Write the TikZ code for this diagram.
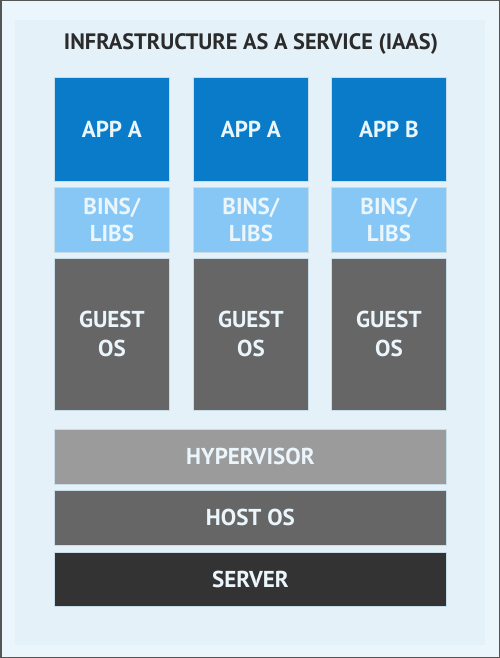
\documentclass[tikz,border=0pt]{standalone}
\usepackage{fontspec}
\setmainfont{PT Sans}
\begin{document}
\begin{tikzpicture}[x=1pt,y=-1pt,
  blk/.style={draw=edgec,line width=0.8pt,inner sep=0pt,text=lighttxt,align=center,
    font=\fontsize{23}{29}\selectfont\bfseries},
  appbox/.style={blk,fill=appc},
  binbox/.style={blk,fill=binc,font=\fontsize{23}{27}\selectfont\bfseries},
  guestbox/.style={blk,fill=guestc},
]
\definecolor{bgc}{HTML}{EAF6FC}
\definecolor{innerc}{HTML}{E4F1F8}
\definecolor{framec}{HTML}{555555}
\definecolor{edgec}{HTML}{C9DDE8}
\definecolor{lighttxt}{HTML}{EAF6FC}
\definecolor{appc}{HTML}{0A7BC9}
\definecolor{binc}{HTML}{86C7F5}
\definecolor{guestc}{HTML}{666666}
\definecolor{hypc}{HTML}{9A9B9A}
\definecolor{hostc}{HTML}{666666}
\definecolor{serverc}{HTML}{333333}
\definecolor{titlec}{HTML}{2B2B2B}
\useasboundingbox (0,0) rectangle (500,658);
\fill[bgc] (0,0) rectangle (500,658);
\fill[innerc] (15,20) rectangle (485,645);
\draw[framec,line width=1.5pt] (0.75,0.75) rectangle (499.25,657.25);
\node[text=titlec,font=\fontsize{22.3}{26}\selectfont\bfseries] (title) at (251,44) {INFRASTRUCTURE AS A SERVICE (IAAS)};
% columns
\foreach \i/\x/\app in {1/54/APP A,2/193/APP A,3/331/APP B}{
  \node[appbox,minimum width=115,minimum height=104,anchor=north west] (app\i) at (\x,77) {\app};
  \node[binbox,minimum width=115,minimum height=65,anchor=north west] (bin\i) at (\x,187) {BINS/\\LIBS};
  \node[guestbox,minimum width=115,minimum height=152,anchor=north west] (guest\i) at (\x,258) {GUEST\\OS};
}
\node[blk,fill=hypc,minimum width=392,minimum height=55,anchor=north west] (hyp) at (54,429) {HYPERVISOR};
\node[blk,fill=hostc,minimum width=392,minimum height=55,anchor=north west] (host) at (54,490) {HOST OS};
\node[blk,fill=serverc,minimum width=392,minimum height=54,anchor=north west] (server) at (54,552) {SERVER};
\end{tikzpicture}
\end{document}
